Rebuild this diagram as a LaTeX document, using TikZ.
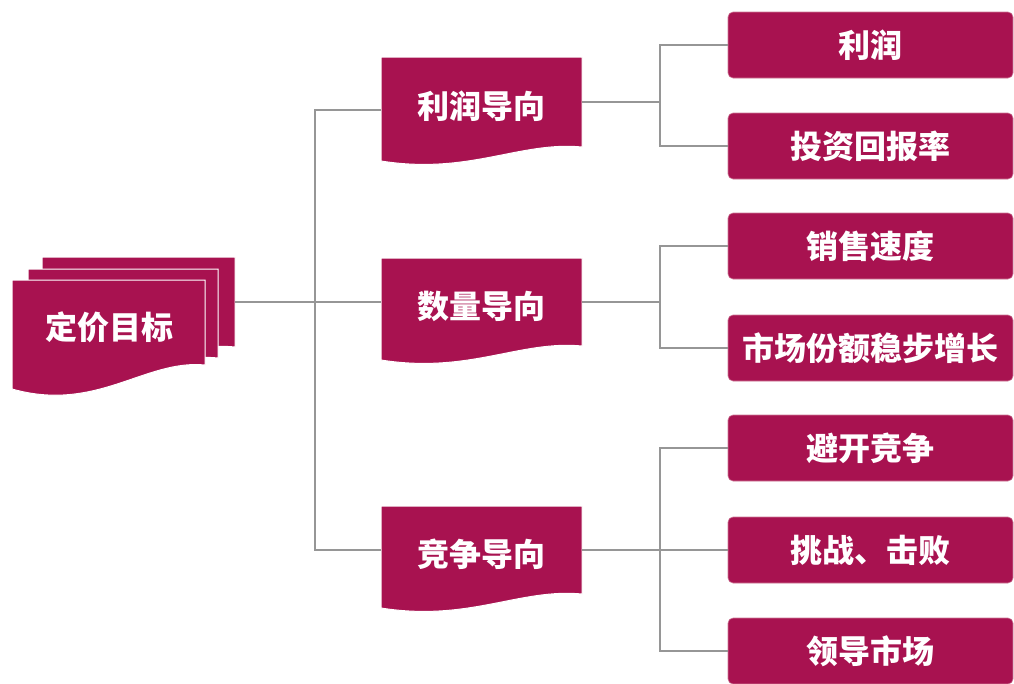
\documentclass[tikz,border=0pt]{standalone}
\usepackage{fontspec}
\newfontfamily\cjk{Noto Sans CJK SC}
\usetikzlibrary{calc}
\definecolor{wine}{RGB}{168,18,80}
\definecolor{winelite}{RGB}{205,120,150}
\definecolor{conncol}{RGB}{150,150,150}
\newcommand\docpath[2]{% node name, wave depth
  \fill[wine,draw=white,line width=1pt] (#1.north west) -- (#1.north east) -- (#1.south east)
    .. controls ($(#1.south east)!0.31!(#1.south west)+(0,-6)$) and ($(#1.south west)!0.44!(#1.south east)+(0,2*#2)$) .. ($(#1.south west)+(0,#2)$) -- cycle;}
\begin{document}
\begin{tikzpicture}[x=1pt,y=-1pt,
  area/.style={minimum width=#1,inner sep=0pt,outer sep=0pt},
  txt/.style={text=white,font=\cjk\bfseries\fontsize{32}{36}\selectfont},
  leaf/.style={txt,fill=wine,draw=winelite,line width=0.6pt,rounded corners=5pt,minimum width=285pt,minimum height=66pt,inner sep=0pt},
  conn/.style={draw=conncol,line width=1.2pt}]
\useasboundingbox (0,0) rectangle (1014,683);
% left stack
\node[area=193pt,minimum height=90pt] (g3) at (138.5,302) {};
\node[area=190pt,minimum height=89pt] (g2) at (123,313.5) {};
\node[area=193pt,minimum height=85pt] (g1) at (108.5,322.5) {};
\docpath{g3}{14}
\docpath{g2}{16}
\docpath{g1}{24}
\node[txt] (gt) at ($(g1)+(1,5)$) {定价目标};
% middle docs
\node[area=201pt,minimum height=90pt] (p1) at (481.5,102) {};
\node[area=201pt,minimum height=88pt] (p2) at (481.5,302) {};
\node[area=201pt,minimum height=88pt] (p3) at (481.5,550) {};
\docpath{p1}{14}
\docpath{p2}{14}
\docpath{p3}{14}
\node[txt] (t1) at ($(p1)+(0,4)$) {利润导向};
\node[txt] (t2) at ($(p2)+(0,4)$) {数量导向};
\node[txt] (t3) at ($(p3)+(0,4)$) {竞争导向};
% leaves
\node[leaf] (r1) at (870.5,45) {利润};
\node[leaf] (r2) at (870.5,146) {投资回报率};
\node[leaf] (r3) at (870.5,246) {销售速度};
\node[leaf] (r4) at (870.5,348) {市场份额稳步增长};
\node[leaf] (r5) at (870.5,448) {避开竞争};
\node[leaf] (r6) at (870.5,550) {挑战、击败};
\node[leaf] (r7) at (870.5,651) {领导市场};
% connectors
\coordinate (j) at (315,302);
\draw[conn] (g3.east) -- (j);
\draw[conn] ($(p1.west)+(0,8)$) -| (j) |- (p3.west);
\draw[conn] (j) -- (p2.west);
\coordinate (k1) at (660,102);
\coordinate (k2) at (660,302);
\coordinate (k3) at (660,550);
\draw[conn] (p1.east) -- (k1);
\draw[conn] (r1.west) -| (k1) |- (r2.west);
\draw[conn] (p2.east) -- (k2);
\draw[conn] (r3.west) -| (k2) |- (r4.west);
\draw[conn] (p3.east) -- (r6.west);
\draw[conn] (r5.west) -| (k3) |- (r7.west);
\end{tikzpicture}
\end{document}
